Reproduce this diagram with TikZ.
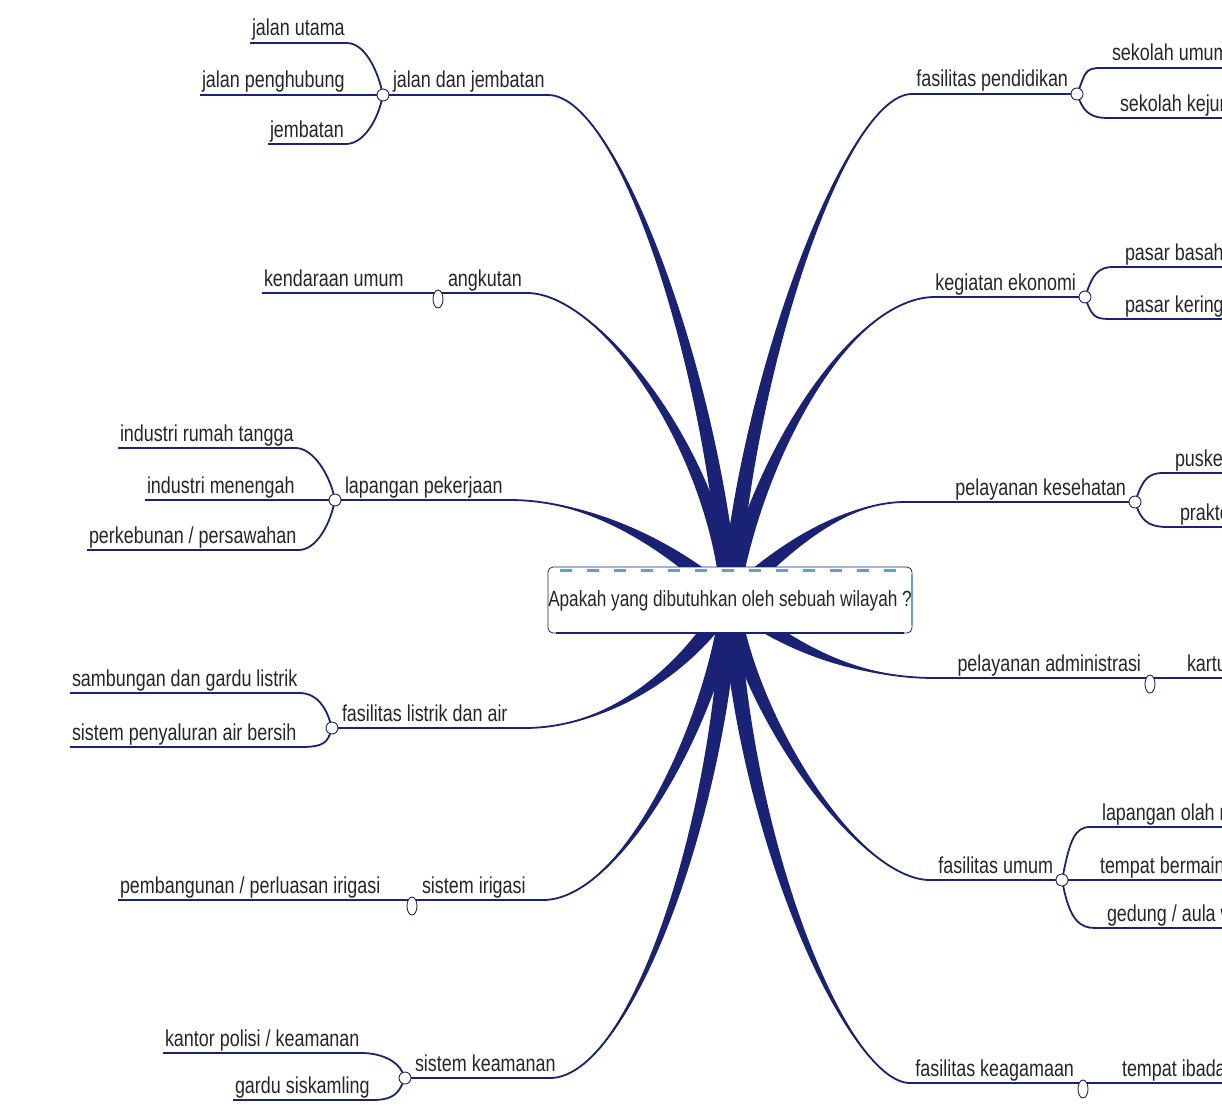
\documentclass[tikz,border=0pt]{standalone}
\usepackage{fontspec}
\setmainfont{Liberation Sans}[FakeStretch=0.78]
\usetikzlibrary{calc,shapes.geometric}

\definecolor{navy}{RGB}{26,34,118}
\definecolor{skyblue}{RGB}{96,160,214}

% tapered spoke from the question out to a topic
\newcommand{\spoke}[4]{%
  \fill[navy] ($(#1)!9pt!90:(#2)$) .. controls ($(#2)!6pt!-90:(#1)$) and (#3) .. (#4)
    .. controls (#3) and ($(#2)!6pt!90:(#1)$) .. ($(#1)!9pt!-90:(#2)$) -- cycle;
  \draw[navy,line width=1.8pt] (#1) .. controls (#2) and (#3) .. (#4);}

\begin{document}
\begin{tikzpicture}[x=1pt,y=-1pt,
  every node/.style={font=\fontsize{23}{25}\selectfont, text=black!85,
    text height=17pt, text depth=5pt, outer sep=0pt},
  ltopic/.style={anchor=south west, inner xsep=10pt, inner ysep=2pt},
  rtopic/.style={anchor=south east, inner xsep=9pt, inner ysep=2pt},
  twig/.style={anchor=south west, inner xsep=2pt, inner ysep=2pt},
  rtwig/.style={anchor=south west, inner xsep=12pt, inner ysep=2pt},
  knob/.style={circle, draw=navy, fill=white, line width=0.9pt,
    minimum size=12pt, inner sep=0pt, text height=0pt, text depth=0pt},
  drop/.style={knob, ellipse, minimum width=10pt, minimum height=18pt},
  mainline/.style={navy, line width=2.6pt},
  twigline/.style={navy, line width=1.8pt},
  hub/.style={draw=navy, fill=white, line width=0.8pt, rounded corners=5pt,
    minimum width=364pt, minimum height=66pt, inner sep=0pt,
    font=\fontsize{22}{24}\selectfont}]
\useasboundingbox (0,0) rectangle (1222,1105);
\clip (0,0) rectangle (1222,1105);

\coordinate (c) at (730,600);
% topic ends
\coordinate (jd-e) at (548,95);
\coordinate (ak-e) at (527,293);
\coordinate (lp-e) at (510,500);
\coordinate (fl-e) at (525,728);
\coordinate (si-e) at (543,900);
\coordinate (sk-e) at (550,1078);
\coordinate (pd-e) at (912,94);
\coordinate (ke-e) at (935,297);
\coordinate (ks-e) at (905,502);
\coordinate (pa-e) at (935,678);
\coordinate (fu-e) at (930,880);
\coordinate (fk-e) at (910,1083);

\spoke{c}{715,380}{620,95}{jd-e}
\spoke{c}{715,450}{600,293}{ak-e}
\spoke{c}{665,540}{585,500}{lp-e}
\spoke{c}{680,680}{600,728}{fl-e}
\spoke{c}{710,730}{620,900}{si-e}
\spoke{c}{720,820}{630,1078}{sk-e}
\spoke{c}{745,380}{845,94}{pd-e}
\spoke{c}{755,460}{850,297}{ke-e}
\spoke{c}{790,540}{850,502}{ks-e}
\spoke{c}{790,650}{860,678}{pa-e}
\spoke{c}{750,720}{860,880}{fu-e}
\spoke{c}{745,850}{850,1083}{fk-e}

\node[hub] (q) at (c) {Apakah yang dibutuhkan oleh sebuah wilayah ?};
\draw[skyblue, line width=3pt, dash pattern=on 12pt off 15pt]
  ([xshift=12pt,yshift=-3pt]q.north west) -- ([xshift=-12pt,yshift=-3pt]q.north east);
\draw[skyblue, line width=2.5pt] ([yshift=-8pt]q.north east) -- ([yshift=8pt]q.south east);
\draw[navy, line width=2.5pt] ([xshift=8pt]q.south west) -- ([xshift=-8pt]q.south east);

% knobs
\node[knob] (jd-k) at (383,95) {};
\node[knob] (lp-k) at (335,500) {};
\node[knob] (fl-k) at (332,728) {};
\node[knob] (sk-k) at (405,1078) {};
\node[knob] (pd-k) at (1077,94) {};
\node[knob] (ke-k) at (1085,297) {};
\node[knob] (ks-k) at (1135,502) {};
\node[knob] (fu-k) at (1062,880) {};
\coordinate (ak-j) at (438,293);
\coordinate (si-j) at (412,900);
\coordinate (pa-j) at (1150,678);
\coordinate (fk-j) at (1083,1083);

% topics
\node[ltopic] (jd) at (jd-k) {jalan dan jembatan};
\node[ltopic] (ak) at (ak-j) {angkutan};
\node[ltopic] (lp) at (lp-k) {lapangan pekerjaan};
\node[ltopic] (fl) at (fl-k) {fasilitas listrik dan air};
\node[ltopic] (si) at (si-j) {sistem irigasi};
\node[ltopic] (sk) at (sk-k) {sistem keamanan};
\node[rtopic] (pd) at (pd-k) {fasilitas pendidikan};
\node[rtopic] (ke) at (ke-k) {kegiatan ekonomi};
\node[rtopic] (ks) at (ks-k) {pelayanan kesehatan};
\node[rtopic] (pa) at (pa-j) {pelayanan administrasi};
\node[rtopic] (fu) at (fu-k) {fasilitas umum};
\node[rtopic] (fk) at (fk-j) {fasilitas keagamaan};

% left subtopics
\node[twig] (ju) at (250,43) {jalan utama};
\node[twig] (jp) at (200,95) {jalan penghubung};
\node[twig] (jb) at (268,144) {jembatan};
\node[twig] (ku) at (262,293) {kendaraan umum};
\node[twig] (ir) at (118,448) {industri rumah tangga};
\node[twig] (im) at (145,500) {industri menengah};
\node[twig] (pp) at (87,550) {perkebunan / persawahan};
\node[twig] (sg) at (70,693) {sambungan dan gardu listrik};
\node[twig] (sp) at (70,747) {sistem penyaluran air bersih};
\node[twig] (pi) at (118,900) {pembangunan / perluasan irigasi};
\node[twig] (kp) at (163,1053) {kantor polisi / keamanan};
\node[twig] (gs) at (233,1100) {gardu siskamling};

% right subtopics
\node[rtwig] (su) at (1100,68) {sekolah umum};
\node[rtwig] (sj) at (1108,118) {sekolah kejuruan};
\node[rtwig] (pb) at (1113,267) {pasar basah};
\node[rtwig] (pk) at (1113,319) {pasar kering};
\node[rtwig] (pu) at (1163,473) {puskesmas};
\node[rtwig] (pr) at (1168,527) {praktek};
\node[rtwig] (ka) at (1175,678) {kartu};
\node[rtwig] (lo) at (1090,827) {lapangan olah raga};
\node[rtwig] (tb) at (1088,880) {tempat bermain};
\node[rtwig] (ga) at (1095,928) {gedung / aula warga};
\node[rtwig] (ti) at (1110,1083) {tempat ibadah};

% left lines
\draw[mainline] (jd-k) -- (jd-e);
\draw[twigline] (ju.south west) -- (ju.south east) .. controls +(18,0) and +(-6,-25) .. (jd-k);
\draw[twigline] (jp.south west) -- (jd-k);
\draw[twigline] (jb.south west) -- (jb.south east) .. controls +(18,0) and +(-6,25) .. (jd-k);
\draw[twigline] (ku.south west) -- (ak-j);
\draw[mainline] (ak-j) -- (ak-e);
\draw[mainline] (lp-k) -- (lp-e);
\draw[twigline] (ir.south west) -- (ir.south east) .. controls +(18,0) and +(-6,-25) .. (lp-k);
\draw[twigline] (im.south west) -- (lp-k);
\draw[twigline] (pp.south west) -- (pp.south east) .. controls +(18,0) and +(-6,25) .. (lp-k);
\draw[mainline] (fl-k) -- (fl-e);
\draw[twigline] (sg.south west) -- (sg.south east) .. controls +(18,0) and +(-6,-20) .. (fl-k);
\draw[twigline] (sp.south west) -- (sp.south east) .. controls +(18,0) and +(-6,18) .. (fl-k);
\draw[twigline] (pi.south west) -- (si-j);
\draw[mainline] (si-j) -- (si-e);
\draw[mainline] (sk-k) -- (sk-e);
\draw[twigline] (kp.south west) -- (kp.south east) .. controls +(18,0) and +(-8,-18) .. (sk-k);
\draw[twigline] (gs.south west) -- (gs.south east) .. controls +(18,0) and +(-8,18) .. (sk-k);

% right lines
\draw[mainline] (pd-e) -- (pd-k);
\draw[twigline] (pd-k) .. controls +(8,-20) and +(-15,0) .. (su.south west) -- ++(160,0);
\draw[twigline] (pd-k) .. controls +(8,20) and +(-15,0) .. (sj.south west) -- ++(160,0);
\draw[mainline] (ke-e) -- (ke-k);
\draw[twigline] (ke-k) .. controls +(8,-22) and +(-15,0) .. (pb.south west) -- ++(160,0);
\draw[twigline] (ke-k) .. controls +(8,22) and +(-15,0) .. (pk.south west) -- ++(160,0);
\draw[mainline] (ks-e) -- (ks-k);
\draw[twigline] (ks-k) .. controls +(8,-22) and +(-15,0) .. (pu.south west) -- ++(160,0);
\draw[twigline] (ks-k) .. controls +(8,22) and +(-15,0) .. (pr.south west) -- ++(160,0);
\draw[mainline] (pa-e) -- (pa-j);
\draw[twigline] (pa-j) -- (ka.south west) -- ++(160,0);
\draw[mainline] (fu-e) -- (fu-k);
\draw[twigline] (fu-k) .. controls +(8,-40) and +(-15,0) .. (lo.south west) -- ++(160,0);
\draw[twigline] (fu-k) -- (tb.south west) -- ++(160,0);
\draw[twigline] (fu-k) .. controls +(8,40) and +(-15,0) .. (ga.south west) -- ++(160,0);
\draw[mainline] (fk-e) -- (fk-j);
\draw[twigline] (fk-j) -- (ti.south west) -- ++(160,0);

% hanging knobs
\node[drop] (ak-k) at ([yshift=-6pt]ak-j) {};
\node[drop] (si-k) at ([yshift=-6pt]si-j) {};
\node[drop] (pa-k) at ([yshift=-6pt]pa-j) {};
\node[drop] (fk-k) at ([yshift=-6pt]fk-j) {};
\end{tikzpicture}
\end{document}
